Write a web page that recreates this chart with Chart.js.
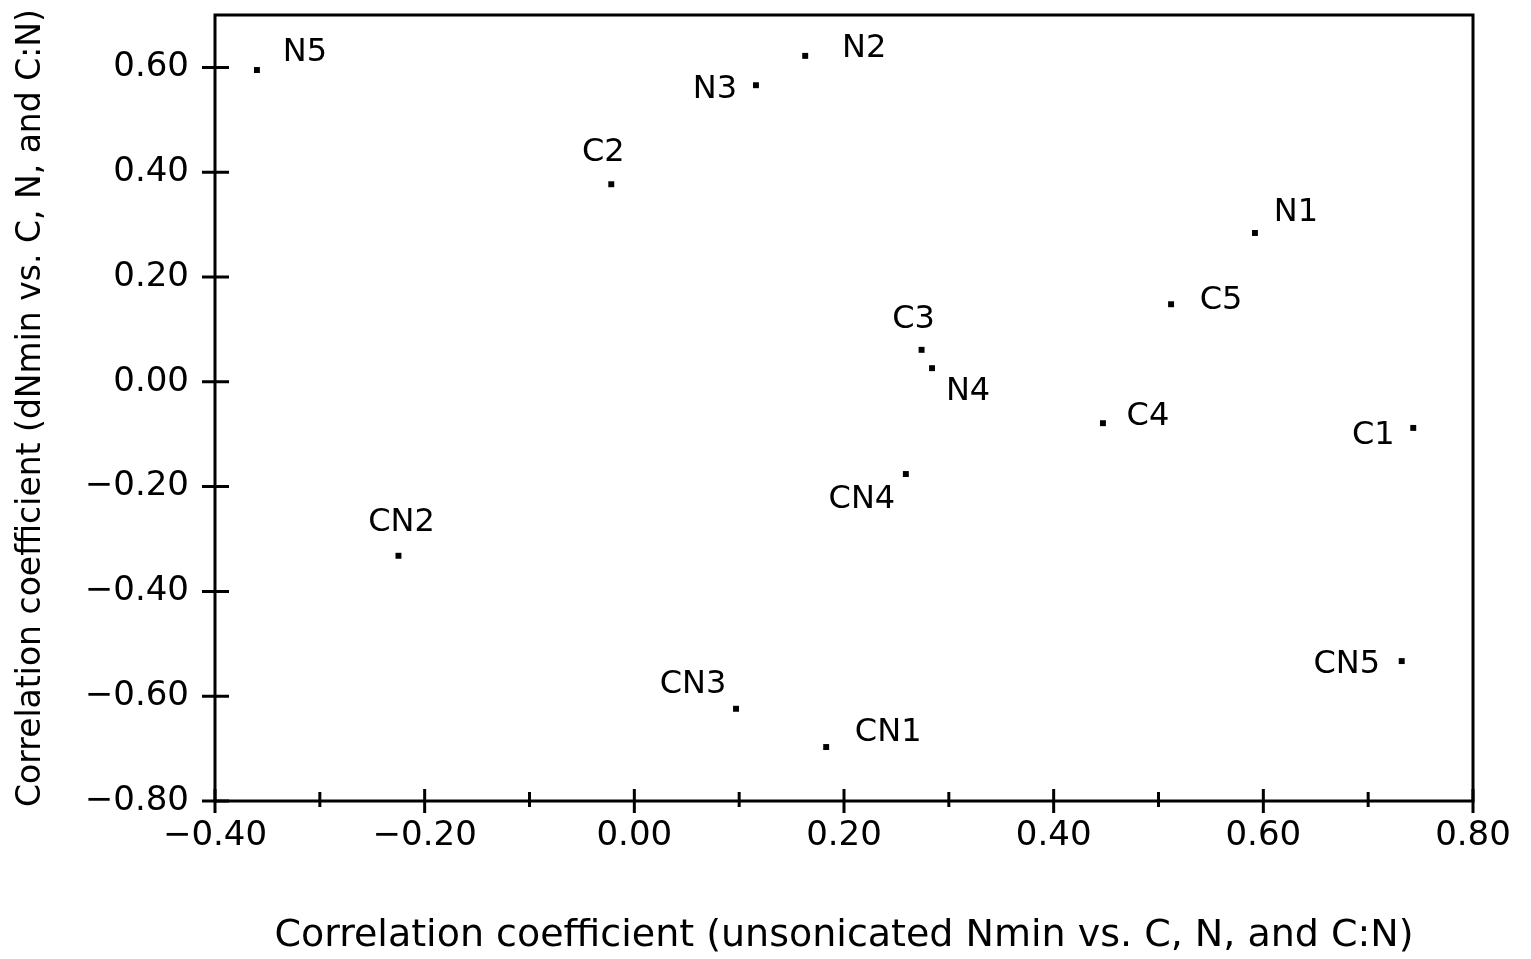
<!DOCTYPE html>
<html><head><meta charset="utf-8">
<script src="https://cdn.jsdelivr.net/npm/chart.js@4.4.1/dist/chart.umd.min.js"></script>
<style>html,body{margin:0;padding:0;background:#fff;}#wrap{width:1531px;height:959px;}</style>
</head><body><div id="wrap"><canvas id="c" width="1531" height="959"></canvas></div>
<script>
const pointNames = ["N5","N2","N3","C2","N1","C5","C3","N4","C4","C1","CN4","CN2","CN5","CN3","CN1"];
const xValues = [-0.360,0.163,0.116,-0.022,0.592,0.512,0.274,0.284,0.447,0.743,0.259,-0.225,0.732,0.097,0.183];
const yValues = [0.595,0.622,0.566,0.377,0.284,0.148,0.061,0.026,-0.079,-0.088,-0.176,-0.332,-0.533,-0.624,-0.697];
const xTicks = [-0.4,-0.2,0.0,0.2,0.4,0.6,0.8];
const xMinorTicks = [-0.3,-0.1,0.1,0.3,0.5,0.7];
const yTicks = [-0.8,-0.6,-0.4,-0.2,0.0,0.2,0.4,0.6];
const xTitle = "Correlation coefficient (unsonicated Nmin vs. C, N, and C:N)";
const yTitle = "Correlation coefficient (dNmin vs. C, N, and C:N)";
// label offsets (px) relative to each point
const labelDX = [48,59,-41,-8,41,50,-8,36,45,-40,-44,3,-55,-43,62];
const labelDY = [-17,-7,4,-32,-20,-4,-30,24,-7,8,26,-33,4,-24,-14];

const FONT = "'DejaVu Sans', sans-serif";
const fmt = v => { const s = Math.abs(v).toFixed(2); return (v < -1e-9 ? "\u2212" : "") + s; };

const framePlugin = {
  id: 'frame',
  afterDraw(chart) {
    const {ctx, chartArea: a, scales} = chart;
    const xs = scales.x, ys = scales.y;
    ctx.save();
    ctx.strokeStyle = '#000';
    ctx.lineWidth = 3;
    ctx.strokeRect(a.left, a.top, a.right - a.left, a.bottom - a.top);
    ctx.beginPath();
    xTicks.forEach(v => { const p = xs.getPixelForValue(v); ctx.moveTo(p, a.bottom - 12); ctx.lineTo(p, a.bottom + 12); });
    xMinorTicks.forEach(v => { const p = xs.getPixelForValue(v); ctx.moveTo(p, a.bottom - 9); ctx.lineTo(p, a.bottom + 6); });
    yTicks.forEach(v => { const p = ys.getPixelForValue(v); ctx.moveTo(a.left - 13, p); ctx.lineTo(a.left + 14, p); });
    ctx.stroke();
    // point labels
    ctx.fillStyle = '#000';
    ctx.font = "32px " + FONT;
    ctx.textAlign = 'center';
    ctx.textBaseline = 'middle';
    const meta = chart.getDatasetMeta(0);
    meta.data.forEach((el, i) => {
      ctx.fillText(pointNames[i], el.x + labelDX[i], el.y + labelDY[i]);
    });
    ctx.restore();
  }
};

new Chart(document.getElementById('c'), {
  type: 'scatter',
  data: {
    datasets: [{
      data: xValues.map((x, i) => ({x, y: yValues[i]})),
      pointStyle: 'rect',
      radius: 4.2,
      backgroundColor: '#000',
      borderColor: '#000',
      borderWidth: 0
    }]
  },
  options: {
    responsive: false,
    animation: false,
    devicePixelRatio: 1,
    layout: {padding: {top: 15, right: 58, left: 12, bottom: 0}},
    plugins: {legend: {display: false}, tooltip: {enabled: false}},
    scales: {
      x: {
        type: 'linear', min: -0.4, max: 0.8,
        afterFit(s) { s.height = 158; },
        afterBuildTicks(s) { s.ticks = xTicks.map(v => ({value: v})); },
        grid: {display: false, drawTicks: false},
        border: {display: false},
        ticks: {color: '#000', font: {family: FONT, size: 34}, padding: 15, maxRotation: 0, callback: v => fmt(v)},
        title: {display: true, text: xTitle, color: '#000', font: {family: FONT, size: 38}, padding: {top: 38, bottom: 0}}
      },
      y: {
        type: 'linear', min: -0.8, max: 0.7,
        afterFit(s) { s.width = 203; s.paddingTop = 0; s.paddingBottom = 0; },
        afterBuildTicks(s) { s.ticks = yTicks.map(v => ({value: v})); },
        grid: {display: false, drawTicks: false},
        border: {display: false},
        ticks: {color: '#000', font: {family: FONT, size: 34}, padding: 26, callback: v => fmt(v)},
        title: {display: true, text: yTitle, color: '#000', font: {family: FONT, size: 33}, padding: {top: 0, bottom: 8}}
      }
    }
  },
  plugins: [framePlugin]
});
</script></body></html>
